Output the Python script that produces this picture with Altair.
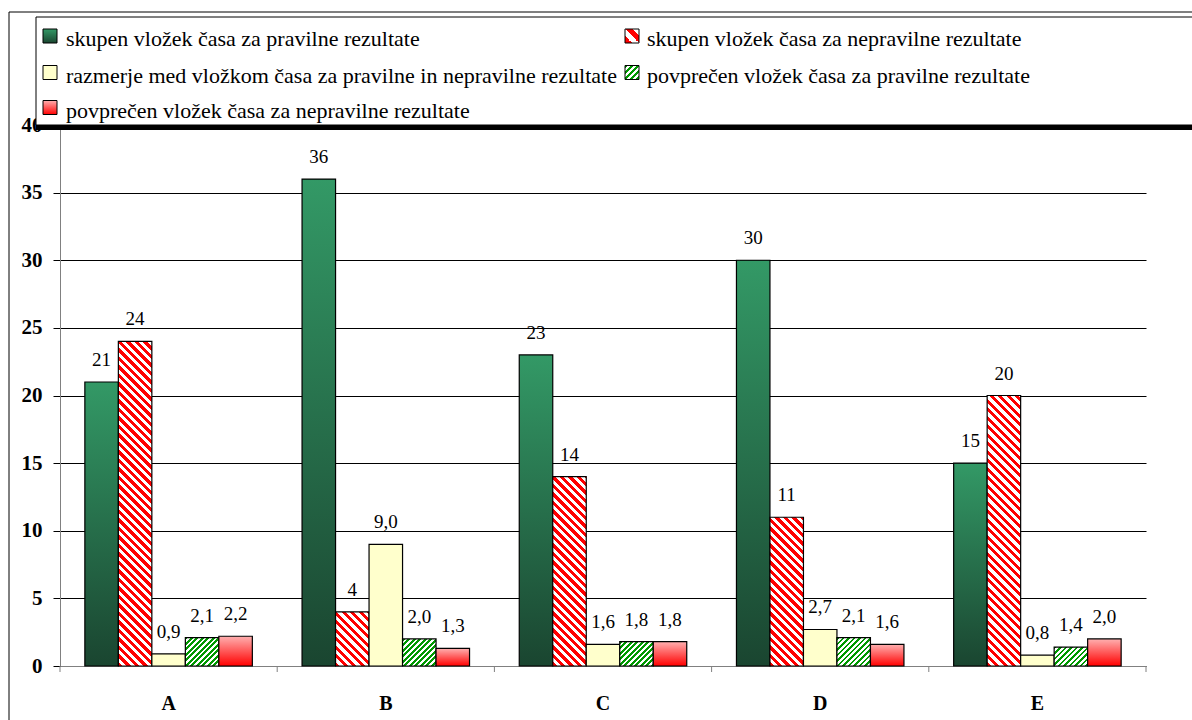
import altair as alt

# ---------------- data ----------------
categories = ["A", "B", "C", "D", "E"]
series = [
    "skupen vložek časa za pravilne rezultate",
    "skupen vložek časa za nepravilne rezultate",
    "razmerje med vložkom časa za pravilne in nepravilne rezultate",
    "povprečen vložek časa za pravilne rezultate",
    "povprečen vložek časa za nepravilne rezultate",
]
total_correct = [21, 36, 23, 30, 15]
total_wrong = [24, 4, 14, 11, 20]
ratio = [0.9, 9.0, 1.6, 2.7, 0.8]
avg_correct = [2.1, 2.0, 1.8, 2.1, 1.4]
avg_wrong = [2.2, 1.3, 1.8, 1.6, 2.0]
y_ticks = [0, 5, 10, 15, 20, 25, 30, 35, 40]

# ---------------- layout / style ----------------
SERIF = "'Liberation Serif', 'Times New Roman', Times, serif"
W, H = 1086, 541
YMAX = 40
PAD = {"left": 60, "top": 125, "right": 46, "bottom": 54}
OFF_PAD = 0.742
BAR_W = (W / len(categories)) / (len(series) + 2 * OFF_PAD)


def vgrad(top, bottom):
    return {"gradient": "linear", "x1": 0, "y1": 0, "x2": 0, "y2": 1,
            "stops": [{"offset": 0, "color": top}, {"offset": 1, "color": bottom}]}


def hatch(w, h, period, color, direction):
    span = w + h
    a = span / (w * w + h * h)
    if direction == "\\":
        x1, y1, x2, y2 = 0, 1, a * w, 1 - a * h
    else:
        x1, y1, x2, y2 = 0, 0, a * w, a * h
    tp = period / span
    stops = []
    k = 0
    while k * tp < 1:
        s = k * tp
        for off, col in [(s, color), (s + tp / 2, color),
                         (s + tp / 2, "#ffffff"), (s + tp, "#ffffff")]:
            stops.append({"offset": round(min(off, 1.0), 5), "color": col})
        k += 1
    return {"gradient": "linear", "x1": x1, "y1": y1, "x2": x2, "y2": y2, "stops": stops}


def fill_for(si, w, h, legend=False):
    if si == 0:
        return vgrad("#339966", "#1a4530")
    if si == 1:
        return hatch(w, h, 14 if legend else 8.5, "#ff0000", "\\")
    if si == 2:
        return "#ffffcc"
    if si == 3:
        return hatch(w, h, 6 if legend else 5.5, "#009900", "/")
    return vgrad("#ffb0b0", "#ff0000")


all_values = [total_correct, total_wrong, ratio, avg_correct, avg_wrong]
rows = []
for si, (name, vals) in enumerate(zip(series, all_values)):
    for c, v in zip(categories, vals):
        label = str(int(v)) if si < 2 else f"{v:.1f}".replace(".", ",")
        h = max(v * H / YMAX, 1.0)
        rows.append({"cat": c, "series": name, "value": v, "label": label,
                     "fill": fill_for(si, BAR_W, h)})

data = alt.Data(values=rows)

x_scale = alt.Scale(paddingInner=0, paddingOuter=0)
x_axis = alt.Axis(title=None, labelAngle=0, ticks=False, grid=False,
                  domainColor="#808080", labelFont=SERIF, labelFontSize=20,
                  labelFontWeight="bold", labelColor="black", labelPadding=27)
x_enc = alt.X("cat:N", sort=categories, scale=x_scale, axis=x_axis)
xoff = alt.XOffset("series:N", sort=series,
                   scale=alt.Scale(domain=series, paddingInner=0, paddingOuter=OFF_PAD))
y_enc = alt.Y(
    "value:Q",
    scale=alt.Scale(domain=[0, YMAX], nice=False),
    axis=alt.Axis(title=None, values=y_ticks, grid=True, gridColor="black",
                  gridOpacity=1, gridWidth=1, domainColor="#808080",
                  tickColor="black", tickSize=7, labelPadding=11,
                  labelFont=SERIF, labelFontSize=21, labelFontWeight="bold",
                  labelColor="black"),
)

bars = alt.Chart(data).mark_bar(stroke="black", strokeWidth=1.2).encode(
    x=x_enc, xOffset=xoff, y=y_enc,
    fill=alt.Fill("fill:N", scale=None, legend=None),
)

labels = alt.Chart(data).mark_text(
    font=SERIF, fontSize=19, baseline="alphabetic", dy=-16, color="black"
).encode(x=x_enc, xOffset=xoff, y=y_enc, text="label:N")

tick_data = alt.Data(values=[{"cat": c} for c in categories])
x_ticks = alt.Chart(tick_data).mark_rule(color="#808080").encode(
    x=alt.X("cat:N", sort=categories, bandPosition=0, scale=x_scale, axis=x_axis),
    y=alt.value(H), y2=alt.value(H + 6),
)
x_tick_end = alt.Chart(alt.Data(values=[{"cat": categories[-1]}])).mark_rule(color="#808080").encode(
    x=alt.X("cat:N", sort=categories, bandPosition=1, scale=x_scale, axis=x_axis),
    y=alt.value(H), y2=alt.value(H + 6),
)

one = alt.Data(values=[{"k": 0}])
RIGHT = W + PAD["right"] + 4
BOTTOM = H + PAD["bottom"] + 4

frame = alt.Chart(one).mark_rect(fill="transparent", stroke="black", strokeWidth=1).encode(
    x=alt.value(-51), x2=alt.value(RIGHT), y=alt.value(-113), y2=alt.value(BOTTOM))

legend_bg = alt.Chart(one).mark_rect(fill="white", stroke="black", strokeWidth=1).encode(
    x=alt.value(-24), x2=alt.value(RIGHT), y=alt.value(-108), y2=alt.value(0))
legend_shadow = alt.Chart(one).mark_rect(fill="black").encode(
    x=alt.value(-24), x2=alt.value(RIGHT), y=alt.value(0), y2=alt.value(5))

layers = [bars, labels, x_ticks, x_tick_end, frame, legend_bg, legend_shadow]

SW_X = [-17, 565]
TX_X = [6, 587]
ROW_Y = [-89, -52.5, -17.5]
SW = 14
for si, name in enumerate(series):
    r, c = divmod(si, 2)
    cy = ROW_Y[r]
    sw = alt.Chart(one).mark_rect(stroke="black", strokeWidth=1,
                                  fill=fill_for(si, SW, SW, legend=True)).encode(
        x=alt.value(SW_X[c]), x2=alt.value(SW_X[c] + SW),
        y=alt.value(cy - SW / 2), y2=alt.value(cy + SW / 2))
    tx = alt.Chart(one).mark_text(align="left", baseline="middle", font=SERIF,
                                  fontSize=22, color="black").encode(
        x=alt.value(TX_X[c]), y=alt.value(cy + 3), text=alt.value(name))
    layers += [sw, tx]

chart = alt.layer(*layers).properties(
    width=W, height=H, padding=PAD,
    autosize=alt.AutoSizeParams(type="none"),
    background="white",
).configure_view(stroke=None)

chart.save("out.html", embed_options={"renderer": "svg", "actions": False})
